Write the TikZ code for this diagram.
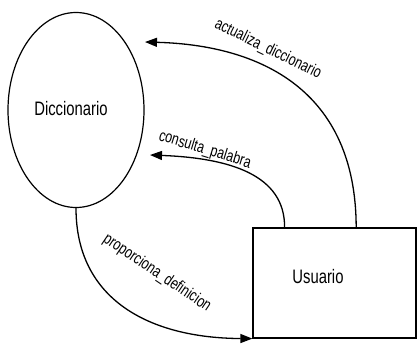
\documentclass[tikz,border=0pt]{standalone}
\usepackage{fontspec}
\setmainfont{Liberation Sans}[FakeStretch=0.76]
\usetikzlibrary{arrows.meta,shapes.geometric,calc}
\begin{document}
\begin{tikzpicture}[x=1pt,y=-1pt,
  flow/.style={line width=1.3pt,-{Triangle[length=12pt,width=9pt]}},
  process/.style={ellipse,draw,line width=1.2pt,minimum width=136pt,minimum height=195pt,inner sep=0pt},
  entity/.style={draw,line width=1.2pt,minimum width=163pt,minimum height=110pt,inner sep=0pt},
  main/.style={font=\fontsize{19.5pt}{21pt}\selectfont},
  lbl/.style={font=\fontsize{16.5pt}{18pt}\selectfont,inner sep=0pt}]
\useasboundingbox (0,0) rectangle (417,346);
% data store and external entity
\node[process,main] (dic) at (76,110) {};
\node[main] (dictxt) at (71,109) {Diccionario};
\node[entity] (usr) at (334.5,283) {};
\node[main] (usrtxt) at (318,277) {Usuario};
% free ends of the arrows
\coordinate (tipA) at (145,42);
\coordinate (tipB) at (150,155);
\coordinate (srcA) at ($(usr.north west)!0.632!(usr.north east)$);
\coordinate (srcB) at ($(usr.north west)!0.196!(usr.north east)$);
% flows
\draw[flow] (srcA) .. controls (356,90) and (260,45) .. (tipA);
\draw[flow] (srcB) .. controls (285,175) and (230,158) .. (tipB);
\draw[flow] (dic.south) .. controls (76,300) and (150,338) .. (usr.south west);
% flow labels
\node[lbl,rotate=-26] (la) at (268,49) {actualiza\_diccionario};
\node[lbl,rotate=-17] (lb) at (205,150) {consulta\_palabra};
\node[lbl,rotate=-34] (lc) at (157,273) {proporciona\_definicion};
\end{tikzpicture}
\end{document}
